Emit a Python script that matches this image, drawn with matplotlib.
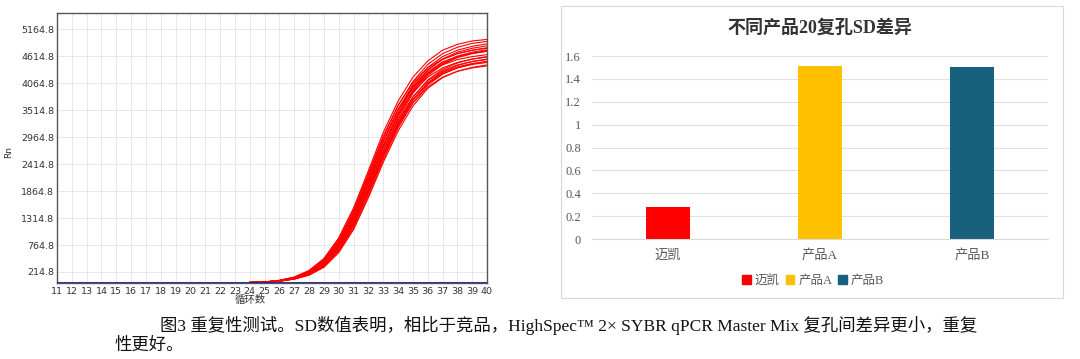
import numpy as np
import matplotlib
matplotlib.use("Agg")
from matplotlib import pyplot as plt
from matplotlib.patches import Rectangle

plt.rcParams['font.family'] = ['DejaVu Sans', 'Noto Sans CJK SC']

# ---- left: amplification curves (Rn vs cycle), 20 replicate wells ----
cycles_all = list(range(11, 41))
cycles = list(range(24, 41))
rn_curves = [
    [0, 12, 44, 110, 245, 490, 910, 1520, 2280, 3060, 3700, 4190, 4520, 4740, 4860, 4930, 4960],
    [0, 11, 41, 102, 228, 455, 860, 1450, 2190, 2950, 3600, 4100, 4450, 4670, 4800, 4880, 4920],
    [0, 10, 38, 96, 214, 430, 820, 1390, 2120, 2880, 3530, 4040, 4390, 4610, 4740, 4820, 4870],
    [0, 12, 43, 108, 240, 480, 895, 1490, 2230, 2990, 3620, 4080, 4380, 4560, 4670, 4740, 4780],
    [0, 9, 35, 90, 200, 405, 775, 1320, 2030, 2790, 3450, 3970, 4330, 4560, 4700, 4780, 4830],
    [0, 9, 34, 87, 192, 390, 750, 1285, 1990, 2740, 3390, 3900, 4250, 4470, 4600, 4680, 4730],
    [0, 11, 40, 100, 222, 445, 840, 1415, 2140, 2890, 3510, 3960, 4260, 4440, 4550, 4610, 4650],
    [0, 8, 31, 81, 180, 368, 712, 1235, 1930, 2680, 3340, 3860, 4220, 4450, 4590, 4670, 4720],
    [0, 10, 37, 94, 208, 418, 795, 1350, 2060, 2800, 3420, 3880, 4190, 4380, 4490, 4560, 4600],
    [0, 8, 30, 78, 172, 352, 685, 1195, 1880, 2620, 3270, 3780, 4130, 4350, 4480, 4560, 4610],
    [0, 9, 33, 85, 188, 382, 730, 1250, 1945, 2680, 3310, 3790, 4120, 4320, 4440, 4510, 4550],
    [0, 7, 28, 74, 163, 335, 655, 1150, 1820, 2550, 3200, 3720, 4080, 4300, 4430, 4510, 4560],
    [0, 8, 32, 82, 182, 370, 708, 1215, 1895, 2620, 3250, 3730, 4060, 4260, 4380, 4450, 4490],
    [0, 7, 27, 70, 155, 320, 628, 1110, 1770, 2500, 3150, 3670, 4030, 4250, 4380, 4460, 4510],
    [0, 8, 30, 78, 174, 355, 682, 1180, 1850, 2570, 3190, 3660, 3990, 4190, 4310, 4380, 4420],
    [0, 7, 26, 68, 150, 310, 610, 1080, 1730, 2450, 3090, 3600, 3960, 4180, 4310, 4390, 4440],
    [0, 10, 37, 95, 210, 422, 805, 1370, 2100, 2870, 3520, 4010, 4340, 4550, 4670, 4740, 4790],
    [0, 11, 39, 98, 218, 438, 828, 1400, 2125, 2880, 3510, 3980, 4300, 4500, 4610, 4680, 4720],
    [0, 9, 34, 88, 196, 398, 762, 1300, 2010, 2760, 3410, 3920, 4270, 4490, 4620, 4700, 4750],
    [0, 7, 29, 76, 168, 345, 672, 1175, 1855, 2590, 3230, 3730, 4070, 4280, 4400, 4470, 4510],
]
baseline = [0] * len(cycles_all)
rn_ticks = [214.8, 764.8, 1314.8, 1864.8, 2414.8, 2964.8, 3514.8, 4064.8, 4614.8, 5164.8]

# ---- right: SD of Ct over 20 replicates ----
products = ['迈凯', '产品A', '产品B']
sd_values = [0.28, 1.51, 1.50]
bar_colors = ['#FF0000', '#FFC000', '#17607E']
sd_ticks = [0, 0.2, 0.4, 0.6, 0.8, 1, 1.2, 1.4, 1.6]

W, H = 1080, 359
fig = plt.figure(figsize=(W / 100, H / 100), dpi=100)

def box(x0, y0, x1, y1):
    # pixel box (top-left origin) -> figure fraction
    return [x0 / W, 1 - y1 / H, (x1 - x0) / W, (y1 - y0) / H]

# left chart
ax1 = fig.add_axes(box(57, 13, 487, 283))
for row in rn_curves:
    ax1.plot(cycles, row, color='#FF0000', lw=0.8)
ax1.plot(cycles_all, baseline, color='#1A1AA0', lw=2.0, zorder=5)
ax1.set_xlim(11, 40)
ax1.set_ylim(-10, 5500)
ax1.set_xticks(cycles_all)
ax1.set_yticks(rn_ticks)
ax1.set_yticklabels([f'{v:.1f}' for v in rn_ticks])
ax1.tick_params(labelsize=6.8, length=0, pad=2, colors='#333333')
ax1.tick_params(axis='x', pad=3)
ax1.grid(True, color='#E4E4E4', lw=0.6)
ax1.set_axisbelow(True)
for s in ax1.spines.values():
    s.set_color('#555555')
    s.set_linewidth(1.0)
fig.text(9 / W, 1 - 152 / H, 'Rn', fontsize=6.5, rotation=90, color='#333333',
         ha='center', va='center')
fig.text(250 / W, 1 - 300 / H, '循环数', fontsize=7.5, color='#333333',
         ha='center', va='center', family=['Noto Sans CJK SC'])

# right chart frame
fig.patches.append(Rectangle((561 / W, 1 - 298 / H), 502 / W, 292 / H,
                             transform=fig.transFigure, fill=False,
                             edgecolor='#D9D9D9', lw=0.8))

serif_cjk = ['Liberation Serif', 'Noto Sans CJK SC']
ax2 = fig.add_axes(box(592, 56, 1048, 239))
ax2.bar(range(len(products)), sd_values, width=0.29, color=bar_colors)
ax2.set_xlim(-0.5, 2.5)
ax2.set_ylim(0, 1.6)
ax2.set_yticks(sd_ticks)
ax2.set_yticklabels([f'{v:g}' for v in sd_ticks], family=serif_cjk)
ax2.set_xticks(range(len(products)))
ax2.set_xticklabels(products, family=serif_cjk)
ax2.tick_params(axis='y', labelsize=9, length=0, pad=8, colors='#595959')
ax2.tick_params(axis='x', labelsize=9.5, length=0, pad=7, colors='#595959')
ax2.grid(axis='y', color='#E0E0E0', lw=0.8)
ax2.set_axisbelow(True)
for k in ['top', 'right', 'left']:
    ax2.spines[k].set_visible(False)
ax2.spines['bottom'].set_color('#D9D9D9')
ax2.set_title('不同产品20复孔SD差异', fontsize=13, fontweight='bold',
              family=serif_cjk, color='#333333', pad=17)
handles = [Rectangle((0, 0), 1, 1, color=c) for c in bar_colors]
fig.legend(handles, products, loc='center', bbox_to_anchor=(813 / W, 1 - 281 / H),
           ncol=3, frameon=False, handlelength=0.7, handleheight=0.7,
           handletextpad=0.3, columnspacing=0.5,
           prop={'family': serif_cjk, 'size': 9}, labelcolor='#595959')

# caption
cap1 = '图3 重复性测试。SD数值表明，相比于竞品，HighSpec™ 2× SYBR qPCR Master Mix 复孔间差异更小，重复'
fig.text(160 / W, 1 - 325 / H, cap1, fontsize=12.5, va='center', ha='left',
         family=serif_cjk, color='#111111')
fig.text(115 / W, 1 - 346 / H, '性更好。', fontsize=12.5, va='center', ha='left',
         family=serif_cjk, color='#111111')

fig.savefig('out.png', dpi=100, facecolor='white')
